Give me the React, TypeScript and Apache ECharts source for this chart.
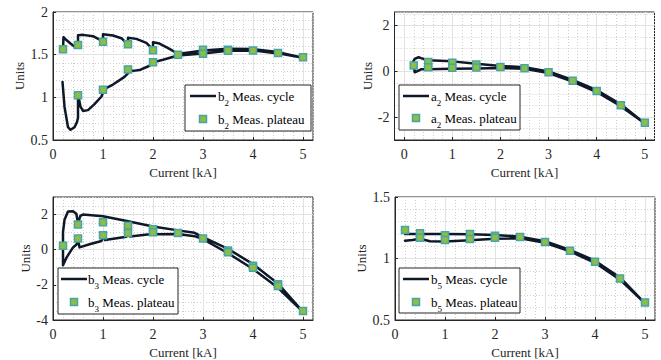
import React, { useEffect, useRef } from 'react';
import * as echarts from 'echarts';

const FONT = "'Liberation Serif', 'Times New Roman', serif";
const INK = '#262626';
const LINE = '#0f1828';
const FILL = '#8fbc42';
const EDGE = '#45a5a8';

const xTicks = [0, 1, 2, 3, 4, 5];
const b2Ticks = [0.5, 1, 1.5, 2];
const a2Ticks = [-2, 0, 2];
const b3Ticks = [-4, -2, 0, 2];
const b5Ticks = [0.5, 1, 1.5];

// b2
const b2PlateauX = [0.2, 0.5, 0.5, 1, 1, 1.5, 1.5, 2, 2, 2.5, 3, 3, 3.5, 3.5, 4, 4.5, 5];
const b2PlateauY = [1.563, 1.614, 1.024, 1.65, 1.09, 1.622, 1.327, 1.551, 1.41, 1.5, 1.559, 1.512, 1.559, 1.545, 1.55, 1.52, 1.47];
const b2CycleX = [0.19, 0.23, 0.3, 0.35, 0.43, 0.48, 0.5, 0.5, 0.55, 0.6, 0.7, 0.83, 0.97, 1.0, 1.0, 1.2, 1.43, 1.5, 1.5, 1.6, 1.73, 1.93, 2.0, 2.0, 2.2, 2.5, 3.0, 3.5, 4.0, 4.5, 5.0,
  4.5, 4.0, 3.5, 3.0, 2.5, 2.33, 2.13, 2.0, 2.0, 1.967, 1.867, 1.667, 1.5, 1.5, 1.467, 1.367, 1.2, 1.0, 1.0, 0.967, 0.933, 0.8, 0.6, 0.5, 0.5, 0.447, 0.35, 0.25, 0.21, 0.2];
const b2CycleY = [1.18, 0.89, 0.65, 0.62, 0.65, 0.71, 0.76, 1.04, 0.89, 0.84, 0.85, 0.92, 1.01, 1.06, 1.09, 1.15, 1.24, 1.28, 1.33, 1.31, 1.32, 1.37, 1.4, 1.41, 1.44, 1.49, 1.515, 1.545, 1.55, 1.515, 1.465,
  1.53, 1.565, 1.57, 1.55, 1.508, 1.567, 1.63, 1.646, 1.551, 1.579, 1.638, 1.685, 1.697, 1.622, 1.638, 1.693, 1.724, 1.74, 1.65, 1.65, 1.677, 1.717, 1.732, 1.728, 1.614, 1.587, 1.63, 1.68, 1.705, 1.563];

// a2
const a2PlateauX = [0.2, 0.5, 0.5, 1, 1, 1.5, 1.5, 2, 2.5, 3, 3.5, 4, 4.5, 5];
const a2PlateauY = [0.26, 0.41, 0.18, 0.38, 0.16, 0.3, 0.17, 0.19, 0.14, -0.04, -0.41, -0.86, -1.48, -2.25];
const a2CycleX = [0.2, 0.22, 0.3, 0.35, 0.5, 1.0, 1.5, 2.0, 2.5, 3.0, 3.5, 4.0, 4.5, 5.0, 4.5, 4.0, 3.5, 3.0, 2.5, 2.0, 1.5, 1.0, 0.5, 0.35, 0.3, 0.22, 0.18, 0.2];
const a2CycleY = [0.2, -0.04, 0.04, 0.09, 0.1, 0.12, 0.13, 0.15, 0.12, -0.07, -0.44, -0.9, -1.52, -2.28, -1.44, -0.82, -0.37, 0.0, 0.18, 0.24, 0.34, 0.44, 0.49, 0.58, 0.62, 0.55, 0.4, 0.27];

// b3
const b3PlateauX = [0.2, 0.5, 0.5, 1, 1, 1.5, 1.5, 2, 2, 2.5, 3, 3.5, 3.5, 4, 4, 4.5, 4.5, 5];
const b3PlateauY = [0.22, 1.44, 0.64, 1.57, 0.82, 1.37, 0.95, 1.17, 1.0, 0.95, 0.64, -0.05, -0.15, -0.91, -1.02, -1.97, -2.06, -3.49];
const b3CycleX = [0.2, 0.2, 0.27, 0.4, 0.47, 0.5, 0.53, 0.73, 0.97, 1.0, 1.04, 1.47, 1.5, 1.54, 1.93, 2.0, 2.08, 2.5, 2.83, 3.0, 3.5, 4.0, 4.5, 5.0,
  4.5, 4.0, 3.5, 3.0, 2.83, 2.5, 2.0, 1.5, 1.0, 0.6, 0.547, 0.5, 0.467, 0.4, 0.3, 0.23, 0.2];
const b3CycleY = [0.95, -0.88, -0.45, 0.13, 0.3, 0.59, 0.13, 0.31, 0.5, 0.77, 0.55, 0.74, 1.0, 0.75, 0.88, 1.02, 0.88, 0.9, 0.77, 0.6, -0.2, -1.1, -2.17, -3.53,
  -1.93, -0.82, 0.05, 0.72, 0.96, 1.1, 1.32, 1.62, 1.9, 2.0, 1.92, 1.5, 2.05, 2.19, 2.17, 1.7, 1.0];

// b5
const b5PlateauX = [0.2, 0.5, 0.5, 1, 1, 1.5, 1.5, 2, 2, 2.5, 3, 3.5, 4, 4.5, 5];
const b5PlateauY = [1.232, 1.205, 1.168, 1.19, 1.15, 1.2, 1.158, 1.184, 1.168, 1.174, 1.134, 1.063, 0.974, 0.837, 0.642];
const b5CycleX = [0.2, 0.35, 0.5, 0.7, 1.0, 1.5, 2.0, 2.5, 3.0, 3.5, 4.0, 4.5, 5.0, 4.5, 4.0, 3.5, 3.0, 2.5, 2.0, 1.5, 1.0, 0.5, 0.2];
const b5CycleY = [1.145, 1.15, 1.16, 1.14, 1.138, 1.148, 1.16, 1.165, 1.128, 1.058, 0.965, 0.828, 0.635, 0.846, 0.982, 1.07, 1.14, 1.178, 1.192, 1.198, 1.2, 1.2, 1.2];

const zip = (xs: number[], ys: number[]) => xs.map((x, i) => [x, ys[i]]);

type Panel = {
  sym: string; sub: string;
  cx: number[]; cy: number[]; px: number[]; py: number[];
  grid: { left: number; top: number; width: number; height: number };
  xMin: number; xMax: number; yMin: number; yMax: number; yTicks: number[]; yMinor: number;
  nameGapY: number;
  legend: { x: number; y: number; w: number; h: number; lineX: number; markX: number; textX: number; r1: number; r2: number };
};

const panels: Panel[] = [
  {
    sym: 'b', sub: '2', cx: b2CycleX, cy: b2CycleY, px: b2PlateauX, py: b2PlateauY,
    grid: { left: 53, top: 12, width: 260, height: 128 }, xMin: 0, xMax: 5.2, yMin: 0.5, yMax: 2, yTicks: b2Ticks, yMinor: 0.1, nameGapY: 27,
    legend: { x: 185, y: 85, w: 126, h: 46, lineX: 190, markX: 203, textX: 218, r1: 96, r2: 119 },
  },
  {
    sym: 'a', sub: '2', cx: a2CycleX, cy: a2CycleY, px: a2PlateauX, py: a2PlateauY,
    grid: { left: 394.5, top: 12, width: 260, height: 128 }, xMin: -0.2, xMax: 5.2, yMin: -3, yMax: 2.6, yTicks: a2Ticks, yMinor: 0.5, nameGapY: 21,
    legend: { x: 399, y: 85, w: 121, h: 45, lineX: 403, markX: 416, textX: 431, r1: 96, r2: 118 },
  },
  {
    sym: 'b', sub: '3', cx: b3CycleX, cy: b3CycleY, px: b3PlateauX, py: b3PlateauY,
    grid: { left: 53, top: 197, width: 260, height: 127 }, xMin: 0, xMax: 5.2, yMin: -4, yMax: 3, yTicks: b3Ticks, yMinor: 0.5, nameGapY: 21,
    legend: { x: 58, y: 268, w: 120, h: 46, lineX: 61, markX: 74, textX: 88, r1: 279, r2: 302 },
  },
  {
    sym: 'b', sub: '5', cx: b5CycleX, cy: b5CycleY, px: b5PlateauX, py: b5PlateauY,
    grid: { left: 395, top: 197, width: 260, height: 127 }, xMin: 0, xMax: 5.2, yMin: 0.5, yMax: 1.5, yTicks: b5Ticks, yMinor: 0.1, nameGapY: 27,
    legend: { x: 399, y: 268, w: 121, h: 45, lineX: 403, markX: 416, textX: 431, r1: 279, r2: 302 },
  },
];

const rich = {
  a: { fontFamily: FONT, fontSize: 13, color: '#111', lineHeight: 22, verticalAlign: 'middle' },
  s: { fontFamily: FONT, fontSize: 9, color: '#111', lineHeight: 22, verticalAlign: 'bottom' },
};

function legendGraphic(p: Panel) {
  const L = p.legend;
  return [
    { type: 'rect', shape: { x: L.x, y: L.y, width: L.w, height: L.h }, style: { fill: '#fff', stroke: INK, lineWidth: 1 }, z: 50 },
    { type: 'line', shape: { x1: L.lineX, y1: L.r1, x2: L.lineX + 26, y2: L.r1 }, style: { stroke: LINE, lineWidth: 2.5 }, z: 51 },
    { type: 'rect', shape: { x: L.markX - 3.5, y: L.r2 - 3.5, width: 7, height: 7 }, style: { fill: FILL, stroke: EDGE, lineWidth: 1.5 }, z: 51 },
    { type: 'text', x: L.textX, y: L.r1, style: { text: `{a|${p.sym}}{s|${p.sub}}{a| Meas. cycle}`, rich, verticalAlign: 'middle', align: 'left' }, z: 51 },
    { type: 'text', x: L.textX, y: L.r2, style: { text: `{a|${p.sym}}{s|${p.sub}}{a| Meas. plateau}`, rich, verticalAlign: 'middle', align: 'left' }, z: 51 },
  ];
}

function buildOption() {
  const grid: any[] = [];
  const xAxis: any[] = [];
  const yAxis: any[] = [];
  const series: any[] = [];
  const graphic: any[] = [];
  const labelStyle = { fontFamily: FONT, fontSize: 14, color: INK };
  const nameStyle = { fontFamily: FONT, fontSize: 13, color: INK };
  const minorLine = { show: true, lineStyle: { type: [1, 2], color: '#cfcfcf', width: 1 } };
  panels.forEach((p, i) => {
    grid.push({ ...p.grid, show: true, borderColor: INK, borderWidth: 1, backgroundColor: 'transparent', containLabel: false });
    // helper axes for the dotted minor grid
    xAxis.push({
      type: 'value', gridIndex: i, min: p.xMin, max: p.xMax, interval: 0.2, position: 'top', z: 0,
      axisLine: { show: false }, axisTick: { show: false }, axisLabel: { show: false }, splitLine: minorLine,
    });
    yAxis.push({
      type: 'value', gridIndex: i, min: p.yMin, max: p.yMax, interval: p.yMinor, position: 'right', z: 0,
      axisLine: { show: false }, axisTick: { show: false }, axisLabel: { show: false }, splitLine: minorLine,
    });
    // main axes
    xAxis.push({
      type: 'value', gridIndex: i, min: p.xMin, max: p.xMax, position: 'bottom', z: 1,
      axisLine: { show: true, onZero: false, lineStyle: { color: INK, width: 1 } },
      axisTick: { show: true, inside: true, length: 3, customValues: xTicks, lineStyle: { color: INK } },
      axisLabel: { customValues: xTicks, margin: 7, ...labelStyle },
      splitLine: { show: true, lineStyle: { color: '#e2e2e2', width: 1 } },
      name: 'Current [kA]', nameLocation: 'middle', nameGap: 26, nameTextStyle: nameStyle,
    });
    yAxis.push({
      type: 'value', gridIndex: i, min: p.yMin, max: p.yMax, position: 'left', z: 1,
      axisLine: { show: true, onZero: false, lineStyle: { color: INK, width: 1 } },
      axisTick: { show: true, inside: true, length: 3, customValues: p.yTicks, lineStyle: { color: INK } },
      axisLabel: { customValues: p.yTicks, margin: 5, ...labelStyle },
      splitLine: { show: true, lineStyle: { color: '#e2e2e2', width: 1 } },
      name: 'Units', nameLocation: 'middle', nameGap: p.nameGapY, nameTextStyle: nameStyle,
    });
    const xi = i * 2 + 1;
    series.push({
      type: 'line', name: `${p.sym}${p.sub} Meas. cycle`, xAxisIndex: xi, yAxisIndex: xi,
      data: zip(p.cx, p.cy), symbol: 'none', smooth: false, z: 3,
      lineStyle: { color: LINE, width: 2.5, join: 'round', cap: 'round' },
    });
    series.push({
      type: 'scatter', name: `${p.sym}${p.sub} Meas. plateau`, xAxisIndex: xi, yAxisIndex: xi,
      data: zip(p.px, p.py), symbol: 'rect', symbolSize: 7, z: 4,
      itemStyle: { color: FILL, borderColor: EDGE, borderWidth: 1.5, opacity: 1 },
    });
    graphic.push(...legendGraphic(p));
  });
  return { animation: false, backgroundColor: '#fff', grid, xAxis, yAxis, series, graphic };
}

export default function App() {
  const ref = useRef<HTMLDivElement>(null);
  useEffect(() => {
    if (!ref.current) return;
    const chart = echarts.init(ref.current, undefined, { renderer: 'svg' });
    chart.setOption(buildOption() as any);
    return () => chart.dispose();
  }, []);
  return <div ref={ref} style={{ position: 'fixed', left: 0, top: 0, width: 661, height: 360, background: '#fff' }} />;
}
